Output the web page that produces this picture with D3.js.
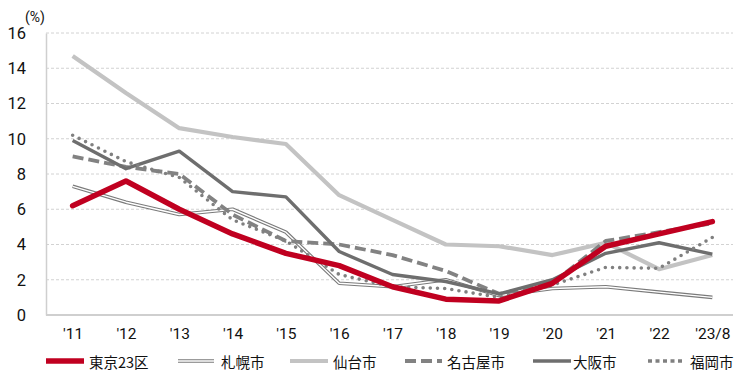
<!DOCTYPE html>
<html>
<head>
<meta charset="utf-8">
<script src="https://cdn.jsdelivr.net/npm/d3@7"></script>
<style>
  html, body { margin: 0; padding: 0; background: #fff; }
  svg { display: block; }
  text { font-family: Roboto, "Noto Sans CJK JP", sans-serif; fill: #111; }
</style>
</head>
<body>
<svg id="chart" width="734" height="370"></svg>
<script>
// Vacancy rate (%) by city, 2011 – Aug 2023
const years = ["'11", "'12", "'13", "'14", "'15", "'16", "'17", "'18", "'19", "'20", "'21", "'22", "'23/8"];
const tokyo    = [6.2, 7.6, 6.0, 4.6, 3.5, 2.8, 1.6, 0.9, 0.8, 1.8, 3.9, 4.6, 5.3];
const sapporo  = [7.3, 6.4, 5.7, 6.0, 4.7, 1.8, 1.6, 2.0, 1.1, 1.5, 1.6, 1.3, 1.0];
const sendai   = [14.7, 12.6, 10.6, 10.1, 9.7, 6.8, 5.4, 4.0, 3.9, 3.4, 4.1, 2.6, 3.4];
const nagoya   = [9.0, 8.4, 8.0, 5.7, 4.2, 4.0, 3.4, 2.5, 1.2, 1.8, 4.2, 4.7, 5.2];
const osaka    = [9.9, 8.3, 9.3, 7.0, 6.7, 3.6, 2.3, 1.9, 1.2, 2.0, 3.5, 4.1, 3.45];
const fukuoka  = [10.2, 8.7, 7.8, 5.4, 4.2, 2.3, 1.6, 1.5, 1.0, 1.7, 2.7, 2.65, 4.4];
const yTicks   = [0, 2, 4, 6, 8, 10, 12, 14, 16];

const series = [
  { name: "東京23区", values: tokyo,   color: "#c00020", width: 5.5, dash: null, cap: "round", double: false, legendDash: null },
  { name: "札幌市",   values: sapporo, color: "#7a7a7a", width: 3.6, dash: null, cap: "butt", double: true, legendDash: null },
  { name: "仙台市",   values: sendai,  color: "#c3c3c3", width: 4.2, dash: null, cap: "butt", double: false, legendDash: null },
  { name: "名古屋市", values: nagoya,  color: "#828282", width: 3.8, dash: "11,5", cap: "butt", double: false, legendDash: "11,5" },
  { name: "大阪市",   values: osaka,   color: "#6e6e6e", width: 3.4, dash: null, cap: "butt", double: false, legendDash: null },
  { name: "福岡市",   values: fukuoka, color: "#808080", width: 3.6, dash: "0,7.2", cap: "round", double: false, legendDash: "4,3.5" }
];
// Drawing order: red series last so it sits on top
const drawOrder = ["仙台市", "札幌市", "名古屋市", "大阪市", "福岡市", "東京23区"];

const svg = d3.select("#chart");
const plotLeft = 46, plotRight = 739, plotTop = 33, plotBottom = 315, gridRight = 733;

const x = d3.scalePoint().domain(years).range([plotLeft, plotRight]).padding(0.5);
const y = d3.scaleLinear().domain([0, 16]).range([plotBottom, plotTop]);

// Gridlines
svg.append("g")
  .selectAll("line")
  .data(yTicks.filter(d => d > 0))
  .join("line")
  .attr("x1", plotLeft).attr("x2", gridRight)
  .attr("y1", d => y(d)).attr("y2", d => y(d))
  .attr("stroke", "#d2d2d2").attr("stroke-width", 1)
  .attr("stroke-dasharray", "3,2");

// Axes
const yAxis = svg.append("g")
  .attr("transform", `translate(${plotLeft},0)`)
  .call(d3.axisLeft(y).tickValues(yTicks).tickSize(0).tickPadding(20));
yAxis.select(".domain").attr("stroke", "#cfcfcf").attr("stroke-width", 1.5);
yAxis.selectAll("text").style("font-size", "16.5px").attr("fill", "#111");

const xAxis = svg.append("g")
  .attr("transform", `translate(0,${plotBottom})`)
  .call(d3.axisBottom(x).tickSize(0).tickPadding(13));
xAxis.select(".domain").attr("d", `M${plotLeft},0H${gridRight}`).attr("stroke", "#cfcfcf").attr("stroke-width", 2);
xAxis.selectAll("text").style("font-size", "15.5px").attr("fill", "#111");

svg.append("text")
  .attr("x", 25).attr("y", 22)
  .style("font-size", "14px")
  .text("(%)");

// Lines
const line = d3.line().x((d, i) => x(years[i])).y(d => y(d));
const g = svg.append("g");
drawOrder.forEach(name => {
  const s = series.find(d => d.name === name);
  const p = g.append("path")
    .datum(s.values)
    .attr("d", line)
    .attr("fill", "none")
    .attr("stroke", s.color)
    .attr("stroke-width", s.width)
    .attr("stroke-linejoin", "round")
    .attr("stroke-linecap", s.cap);
  if (s.dash) p.attr("stroke-dasharray", s.dash);
  if (s.double) {
    g.append("path")
      .datum(s.values)
      .attr("d", line)
      .attr("fill", "none")
      .attr("stroke", "#fff")
      .attr("stroke-width", 1.4)
      .attr("stroke-linejoin", "round");
  }
});

// Legend
const legendPos = [
  { x0: 46, x1: 84, tx: 89 },
  { x0: 178, x1: 214, tx: 221 },
  { x0: 290, x1: 328, tx: 333 },
  { x0: 405, x1: 442, tx: 447 },
  { x0: 533, x1: 571, tx: 573 },
  { x0: 648, x1: 685, tx: 690 }
];
const ly = 361;
const lg = svg.append("g");
series.forEach((s, i) => {
  const pos = legendPos[i];
  const l = lg.append("line")
    .attr("x1", pos.x0).attr("x2", pos.x1)
    .attr("y1", ly).attr("y2", ly)
    .attr("stroke", s.color)
    .attr("stroke-width", s.width)
    .attr("stroke-linecap", "butt");
  if (s.legendDash) l.attr("stroke-dasharray", s.legendDash);
  if (s.double) {
    lg.append("line")
      .attr("x1", pos.x0).attr("x2", pos.x1)
      .attr("y1", ly).attr("y2", ly)
      .attr("stroke", "#fff").attr("stroke-width", 1.4);
  }
  lg.append("text")
    .attr("x", pos.tx).attr("y", ly)
    .attr("dominant-baseline", "central")
    .style("font-size", "14.5px")
    .style("font-family", "'Noto Sans CJK JP', sans-serif")
    .text(s.name);
});
</script>
</body>
</html>
